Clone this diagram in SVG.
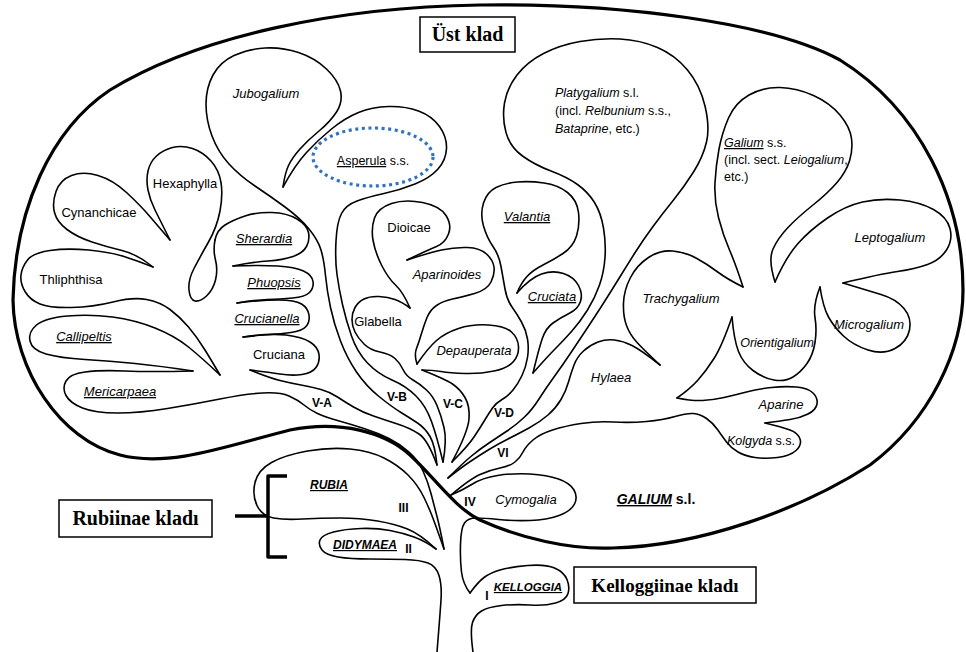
<svg xmlns="http://www.w3.org/2000/svg" width="966" height="652" viewBox="0 0 966 652">
<style>
.o{fill:none;stroke:#000;stroke-width:1.6;stroke-linejoin:round;stroke-linecap:round}
.thick{fill:none;stroke:#000;stroke-width:3.2;stroke-linejoin:round}
.t{font-family:"Liberation Sans",Arial,sans-serif;font-size:13px;fill:#000;text-anchor:middle}
.i{font-style:italic}
.u{text-decoration:underline}
.r{font-family:"Liberation Sans",Arial,sans-serif;font-size:12px;font-weight:bold;fill:#000;text-anchor:middle}
.box{fill:#fff;stroke:#000;stroke-width:1.5}
.bt{font-family:"Liberation Serif","Times New Roman",serif;font-weight:bold;font-size:20px;fill:#000;text-anchor:middle}
</style>
<rect width="966" height="652" fill="#fff"/>

<g id="galium-sl">
<path class="thick" d="M480,520 C520,538 570,550 613,548 C700,546 800,510 870,465 C930,420 963,350 963,290 C963,200 920,110 840,60 C770,22 620,3 480,5 C340,7 200,35 110,90 C50,130 15,210 13,300 C14,370 60,440 120,455 C170,468 230,445 290,430 C340,420 385,432 410,455 C435,478 455,508 480,520 Z"/>
<text class="t" style="font-size:14px;font-weight:bold" x="656" y="504"><tspan style="font-style:italic;text-decoration:underline">GALIUM</tspan> s.l.</text>
</g>

<g id="ust-klad">
<rect class="box" x="420" y="17" width="95" height="35"/>
<text class="bt" x="467.5" y="41">Üst klad</text>
</g>

<g id="rubiinae-kladi">
<rect class="box" x="59" y="500" width="153" height="37"/>
<text class="bt" x="135.5" y="525">Rubiinae kladı</text>
</g>

<g id="kelloggiinae-kladi">
<rect class="box" x="574" y="567" width="182" height="36"/>
<text class="bt" style="font-size:19px" x="665" y="592">Kelloggiinae kladı</text>
</g>

<g id="didymaea">
<path class="o" d="M436,549 Q425,541 414,537 Q403,533 390,530.5 Q377,528 361,528.5 Q345,529 333.5,532 Q322,535 320,540 Q318,545 322,550 Q326,555 338,557 Q350,559 370,559 Q390,559 405,559.5 Q420,560 428,563 Q436,566 439,575.5 Q442,585 441,600 Q440,615 437,652"/>
<text class="t" style="font-size:12px;font-weight:bold;font-style:italic;text-decoration:underline" x="365" y="549">DIDYMAEA</text>
<text class="r" x="408.5" y="553">II</text>
</g>

<g id="rubia">
<path class="o" d="M436,549 Q420,534 407.5,529 Q395,524 377.5,521 Q360,518 340,518 Q320,518 302.5,519 Q285,520 273.5,518 Q262,516 257,505.5 Q252,495 255,482.5 Q258,470 271.5,462.5 Q285,455 307.5,451 Q330,447 350,449 Q370,451 384,458 Q398,465 408,475 Q418,485 424,497.5 Q430,510 434,521 Q438,532 444,549"/>
<text class="t" style="font-size:12px;font-weight:bold;font-style:italic;text-decoration:underline" x="329" y="489">RUBIA</text>
<text class="r" x="403.5" y="512">III</text>
</g>

<g id="kelloggia">
<path class="o" d="M470,593 Q478,582 484,577.5 Q490,573 500,570 Q510,567 527.5,565.5 Q545,564 554.5,568 Q564,572 567,579.5 Q570,587 568,593.5 Q566,600 555.5,603 Q545,606 530,605 Q515,604 501.5,605.5 Q488,607 481.5,611 Q475,615 472.5,622.5 Q470,630 473,652"/>
<text class="t" style="font-size:11.5px;font-weight:bold;font-style:italic;text-decoration:underline" x="528" y="591">KELLOGGIA</text>
<text class="r" x="487" y="600">I</text>
</g>

<g id="cymogalia">
<path class="o" d="M451,495 Q463,490 472.5,484 Q482,478 497.5,475.5 Q513,473 530,474 Q547,475 558.5,479 Q570,483 574,490 Q578,497 574.5,504 Q571,511 559,515.5 Q547,520 530,520.5 Q513,521 498.5,519.5 Q484,518 476,518 Q468,518 464.5,523 Q461,528 460.5,544 Q460,560 461.5,572 Q463,584 470,593"/>
<text class="t i" x="526" y="504">Cymogalia</text>
<text class="r" x="470" y="506">IV</text>
</g>

<g id="mericarpaea">
<path class="o" d="M444,549 Q440,528 437,516.5 Q434,505 431,493.5 Q428,482 423,471 Q418,460 409,452 Q400,444 389,438.5 Q378,433 364,428.5 Q350,424 337.5,420.5 Q325,417 317.5,413.5 Q310,410 304,405 Q298,400 289,396 Q280,392 262.5,393 Q245,394 220,399 Q195,404 167.5,408.5 Q140,413 117.5,413 Q95,413 82.5,408 Q70,403 66,395.5 Q62,388 66,381 Q70,374 85,372 Q100,370 125,371 Q150,372 193,371"/>
<text class="t i u" x="120" y="396">Mericarpaea</text>
</g>

<g id="callipeltis">
<path class="o" d="M220,375 Q202,358 188.5,347 Q175,336 155,328 Q135,320 112.5,317 Q90,314 67.5,316 Q45,318 36.5,325 Q28,332 30,341 Q32,350 46,354 Q60,358 85,359.5 Q110,361 135,363.5 Q160,366 193,371"/>
<text class="t i u" x="84" y="341">Callipeltis</text>
</g>

<g id="thliphthisa">
<path class="o" d="M153,267 Q138,261 124,256.5 Q110,252 88.5,250 Q67,248 50,250.5 Q33,253 27.5,260 Q22,267 21,275 Q20,283 25,291.5 Q30,300 40,304 Q50,308 71.5,307.5 Q93,307 113,302 Q133,297 146.5,299.5 Q160,302 170,309.5 Q180,317 188.5,327 Q197,337 205,350 Q213,363 220,375"/>
<text class="t" x="71" y="284">Thliphthisa</text>
</g>

<g id="cynanchicae">
<path class="o" d="M170,240 Q158,226 149,215.5 Q140,205 126.5,192.5 Q113,180 98,175.5 Q83,171 71.5,175.5 Q60,180 56,191.5 Q52,203 54.5,212.5 Q57,222 67,229.5 Q77,237 92,242 Q107,247 122,250.5 Q137,254 153,267"/>
<text class="t" x="99" y="217">Cynanchicae</text>
</g>

<g id="hexaphylla">
<path class="o" d="M170,240 Q160,220 155,210 Q150,200 148,190 Q146,180 148,171 Q150,162 156.5,156 Q163,150 172.5,147.5 Q182,145 192.5,148.5 Q203,152 211,161 Q219,170 221,182.5 Q223,195 220,211 Q217,227 208.5,242 Q200,257 194,268.5 Q188,280 189,290 Q190,300 195,301 Q200,302 206.5,296 Q213,290 215.5,280 Q218,270 215.5,260 Q213,250 215,240"/>
<text class="t" x="185" y="188">Hexaphylla</text>
</g>

<g id="sherardia">
<path class="o" d="M215,240 Q217,230 225,225 Q233,220 245,216 Q257,212 272,212.5 Q287,213 297,219 Q307,225 308.5,232.5 Q310,240 306.5,246.5 Q303,253 293,256.5 Q283,260 268,261 Q253,262 233,266"/>
<text class="t i u" x="264" y="243">Sherardia</text>
</g>

<g id="phuopsis">
<path class="o" d="M233,266 Q260,265 277.5,266 Q295,267 303.5,271 Q312,275 313,281.5 Q314,288 309.5,292.5 Q305,297 292.5,298 Q280,299 267.5,299.5 Q255,300 237,303"/>
<text class="t i u" x="274" y="287">Phuopsis</text>
</g>

<g id="crucianella">
<path class="o" d="M237,303 Q262,300 278.5,300 Q295,300 301.5,304 Q308,308 309,315 Q310,322 306,326.5 Q302,331 291,332.5 Q280,334 270,334.5 Q260,335 243,337"/>
<text class="t i u" x="267" y="323">Crucianella</text>
</g>

<g id="cruciana">
<path class="o" d="M243,337 Q270,333 286,335 Q302,337 310,342 Q318,347 319,354.5 Q320,362 316,367.5 Q312,373 302,374.5 Q292,376 280,374 Q268,372 250,370"/>
<text class="t" x="279" y="359">Cruciana</text>
</g>

<g id="jubogalium">
<path class="o" d="M437,465 Q435,445 430,436.5 Q425,428 417.5,423 Q410,418 401,412.5 Q392,407 379,396.5 Q366,386 356.5,372 Q347,358 340.5,341 Q334,324 330.5,307.5 Q327,291 325.5,275.5 Q324,260 321,250 Q318,240 309,229 Q300,218 285,207 Q270,196 255,186 Q240,176 229,164 Q218,152 212,136 Q206,120 206,104 Q206,88 213,75 Q220,62 234,55.5 Q248,49 265,48 Q282,47 298.5,52.5 Q315,58 326.5,69 Q338,80 340.5,91 Q343,102 336.5,112 Q330,122 319,131 Q308,140 300,149 Q292,158 288.5,165.5 Q285,173 283,187"/>
<text class="t i" x="266" y="98">Jubogalium</text>
</g>

<g id="asperula">
<path class="o" d="M283,187 Q295,165 306.5,152.5 Q318,140 331.5,129 Q345,118 358.5,112.5 Q372,107 388.5,106.5 Q405,106 418.5,111 Q432,116 439.5,126.5 Q447,137 446.5,148.5 Q446,160 438,169 Q430,178 415,184 Q400,190 384,193.5 Q368,197 357,201 Q346,205 341.5,213.5 Q337,222 336,241 Q335,260 337,274.5 Q339,289 342.5,304.5 Q346,320 351.5,336 Q357,352 367.5,363 Q378,374 392,380 Q406,386 416,396 Q426,406 431.5,421.5 Q437,437 443,462"/>
<ellipse cx="373" cy="157" rx="60" ry="29" fill="none" stroke="#2f72c4" stroke-width="3.2" stroke-dasharray="3 3.6"/>
<text class="t" style="font-size:12.5px" x="373" y="165"><tspan style="text-decoration:underline">Asperula</tspan> s.s.</text>
</g>

<g id="glabella">
<path class="o" d="M443,462 Q447,440 444,427.5 Q441,415 437,405.5 Q433,396 426.5,390 Q420,384 413,380 Q406,376 403,369.5 Q400,363 395,358.5 Q390,354 380,352 Q370,350 364,344 Q358,338 355,332 Q352,326 352,319.5 Q352,313 355,307.5 Q358,302 364,299 Q370,296 379,296.5 Q388,297 395,299.5 Q402,302 410,308"/>
<text class="t" x="378" y="326">Glabella</text>
</g>

<g id="dioicae">
<path class="o" d="M410,308 Q403,292 395.5,285 Q388,278 381.5,265 Q375,252 373,240 Q371,228 374.5,218 Q378,208 391.5,203.5 Q405,199 422.5,202.5 Q440,206 446,215.5 Q452,225 448.5,234 Q445,243 436.5,246.5 Q428,250 407,260"/>
<text class="t" x="409" y="232">Dioicae</text>
</g>

<g id="aparinoides">
<path class="o" d="M407,260 Q428,253 441.5,250 Q455,247 467.5,247.5 Q480,248 486.5,254 Q493,260 494,267 Q495,274 491,282 Q487,290 474.5,293.5 Q462,297 452.5,299 Q443,301 436.5,305.5 Q430,310 427,317.5 Q424,325 421.5,333.5 Q419,342 416.5,348.5 Q414,355 417,364"/>
<text class="t i" x="447" y="279">Aparinoides</text>
</g>

<g id="depauperata">
<path class="o" d="M417,364 Q428,348 436.5,340.5 Q445,333 458.5,328.5 Q472,324 488.5,325 Q505,326 511.5,332 Q518,338 518.5,346.5 Q519,355 513.5,361.5 Q508,368 494,371 Q480,374 465,373.5 Q450,373 441,371.5 Q432,370 422,370"/>
<text class="t i" x="474" y="355">Depauperata</text>
</g>

<g id="valantia">
<path class="o" d="M452,462 Q468,446 474,437 Q480,428 484.5,420.5 Q489,413 492.5,408 Q496,403 502,399.5 Q508,396 513,390 Q518,384 522,375.5 Q526,367 527.5,357.5 Q529,348 527.5,339 Q526,330 521.5,322 Q517,314 512,307 Q507,300 505,289 Q503,278 501,266.5 Q499,255 493,246.5 Q487,238 483.5,226 Q480,214 483.5,203 Q487,192 496,187.5 Q505,183 517.5,182 Q530,181 544,183 Q558,185 567.5,192.5 Q577,200 578.5,212.5 Q580,225 576.5,236 Q573,247 563,253.5 Q553,260 543,265 Q533,270 527,276.5 Q521,283 517,293"/>
<text class="t i u" x="527" y="221">Valantia</text>
</g>

<g id="cruciata">
<path class="o" d="M517,293 Q530,278 541.5,274 Q553,270 563.5,273.5 Q574,277 578.5,285.5 Q583,294 580.5,301.5 Q578,309 569,313.5 Q560,318 553,323 Q546,328 542.5,338 Q539,348 533,373"/>
<text class="t i u" x="552" y="301">Cruciata</text>
</g>

<g id="platygalium">
<path class="o" d="M533,373 Q548,356 555.5,348.5 Q563,341 571.5,331.5 Q580,322 587.5,310 Q595,298 599.5,285 Q604,272 605,257.5 Q606,243 603.5,228 Q601,213 594.5,202.5 Q588,192 577.5,184.5 Q567,177 551,171 Q535,165 522.5,156 Q510,147 506,132.5 Q502,118 504.5,103 Q507,88 517,75 Q527,62 543.5,53.5 Q560,45 580,41.5 Q600,38 620,39 Q640,40 657.5,47.5 Q675,55 687.5,70 Q700,85 705,106 Q710,127 706.5,142 Q703,157 693.5,172 Q684,187 673.5,200 Q663,213 653,226.5 Q643,240 634.5,253.5 Q626,267 618,280 Q610,293 602,305.5 Q594,318 586,330 Q578,342 570,354 Q562,366 554,377 Q546,388 539,399 Q532,410 524,417.5 Q516,425 507,431 Q498,437 489,443 Q480,449 471.5,456 Q463,463 448,478"/>
<text class="t" style="text-anchor:start;font-size:12.5px"><tspan x="555" y="97"><tspan style="font-style:italic">Platygalium</tspan> s.l.</tspan><tspan x="555" y="115">(incl. <tspan style="font-style:italic">Relbunium</tspan> s.s.,</tspan><tspan x="555" y="133"><tspan style="font-style:italic">Bataprine</tspan>, etc.)</tspan></text>
</g>

<g id="hylaea">
<path class="o" d="M448,478 Q462,467 471,461 Q480,455 489,449.5 Q498,444 508,439 Q518,434 529,428 Q540,422 548,415 Q556,408 561,399.5 Q566,391 568.5,382 Q571,373 574,365 Q577,357 583.5,351 Q590,345 598,342 Q606,339 614.5,340 Q623,341 632,345.5 Q641,350 660,365"/>
<text class="t i" x="611" y="382">Hylaea</text>
</g>

<g id="trachygalium">
<path class="o" d="M660,365 Q645,351 637.5,343 Q630,335 626.5,325.5 Q623,316 623.5,303 Q624,290 630.5,277.5 Q637,265 648.5,257.5 Q660,250 672.5,251 Q685,252 696,258 Q707,264 717,271.5 Q727,279 743,287"/>
<text class="t i" x="681" y="303">Trachygalium</text>
</g>

<g id="galium-ss">
<path class="o" d="M743,287 Q736,265 729.5,250 Q723,235 718.5,217.5 Q714,200 715,182.5 Q716,165 719,149 Q722,133 728.5,118 Q735,103 749,95 Q763,87 780,87.5 Q797,88 813.5,95.5 Q830,103 840,115 Q850,127 851.5,138.5 Q853,150 849.5,161 Q846,172 837,182.5 Q828,193 813,205 Q798,217 788,227.5 Q778,238 773,249 Q768,260 775,282"/>
<text class="t" style="text-anchor:start;font-size:12.5px"><tspan x="724" y="147"><tspan style="font-style:italic;text-decoration:underline">Galium</tspan> s.s.</tspan><tspan x="724" y="164">(incl. sect. <tspan style="font-style:italic">Leiogalium</tspan>,</tspan><tspan x="724" y="181">etc.)</tspan></text>
</g>

<g id="leptogalium">
<path class="o" d="M775,282 Q786,257 798,243.5 Q810,230 827.5,218 Q845,206 862.5,202 Q880,198 900,200 Q920,202 933.5,209.5 Q947,217 950,228.5 Q953,240 946.5,250 Q940,260 927.5,264.5 Q915,269 897.5,271.5 Q880,274 843,283"/>
<text class="t i" x="890" y="242">Leptogalium</text>
</g>

<g id="microgalium">
<path class="o" d="M843,283 Q866,290 881,294.5 Q896,299 904,308.5 Q912,318 909.5,330 Q907,342 895,348.5 Q883,355 868,350 Q853,345 843.5,336 Q834,327 828.5,317 Q823,307 820,287"/>
<text class="t i" x="869" y="329">Microgalium</text>
</g>

<g id="orientigalium">
<path class="o" d="M820,287 Q813,305 815,317.5 Q817,330 815,342.5 Q813,355 807,363.5 Q801,372 793,377 Q785,382 774,380 Q763,378 753,370.5 Q743,363 738.5,351.5 Q734,340 732,317"/>
<text class="t i" style="font-size:12.5px" x="777" y="347">Orientigalium</text>
</g>

<g id="aparine">
<path class="o" d="M677,398 Q692,401 702.5,400.5 Q713,400 724,397.5 Q735,395 746.5,392 Q758,389 771.5,387.5 Q785,386 796.5,387 Q808,388 813,393 Q818,398 817,404 Q816,410 808,414 Q800,418 790,419.5 Q780,421 765,423"/>
<text class="t i" x="781" y="409">Aparine</text>
</g>

<g id="kolgyda">
<path class="o" d="M765,423 Q782,427 790,430 Q798,433 800,439 Q802,445 796,450.5 Q790,456 777.5,457.5 Q765,459 755,457.5 Q745,456 738,452 Q731,448 726.5,442 Q722,436 717.5,429.5 Q713,423 706.5,418.5 Q700,414 693.5,413.5 Q687,413 675,416.5 Q663,420 646.5,421.5 Q630,423 613.5,422 Q597,421 581,423.5 Q565,426 552.5,430 Q540,434 533,440 Q526,446 523,452 Q520,458 515,462 Q510,466 500,468 Q490,470 480,474.5 Q470,479 451,495"/>
<text class="t" style="font-size:12.5px" x="761" y="445"><tspan style="font-style:italic">Kolgyda</tspan> s.s.</text>
</g>

<g id="connectors">
<path class="o" d="M250,370 Q270,378 280,380.5 Q290,383 301,385 Q312,387 321,389.5 Q330,392 337.5,397 Q345,402 353.5,407 Q362,412 373.5,416 Q385,420 397.5,424 Q410,428 419,434 Q428,440 437,465"/>
<path class="o" d="M422,370 Q445,379 452.5,384 Q460,389 465,397.5 Q470,406 469,419 Q468,432 452,462"/>
<path class="o" d="M732,317 Q722,346 714,358.5 Q706,371 698,380 Q690,389 677,398"/>
<path d="M235,516 H268 M287,476 H268 V557 H287" fill="none" stroke="#000" stroke-width="3.5" stroke-linejoin="round"/>
<text class="r" x="322" y="407">V-A</text>
<text class="r" x="397" y="401">V-B</text>
<text class="r" x="453" y="408">V-C</text>
<text class="r" x="504" y="417">V-D</text>
<text class="r" x="503" y="457">VI</text>
</g>
</svg>
